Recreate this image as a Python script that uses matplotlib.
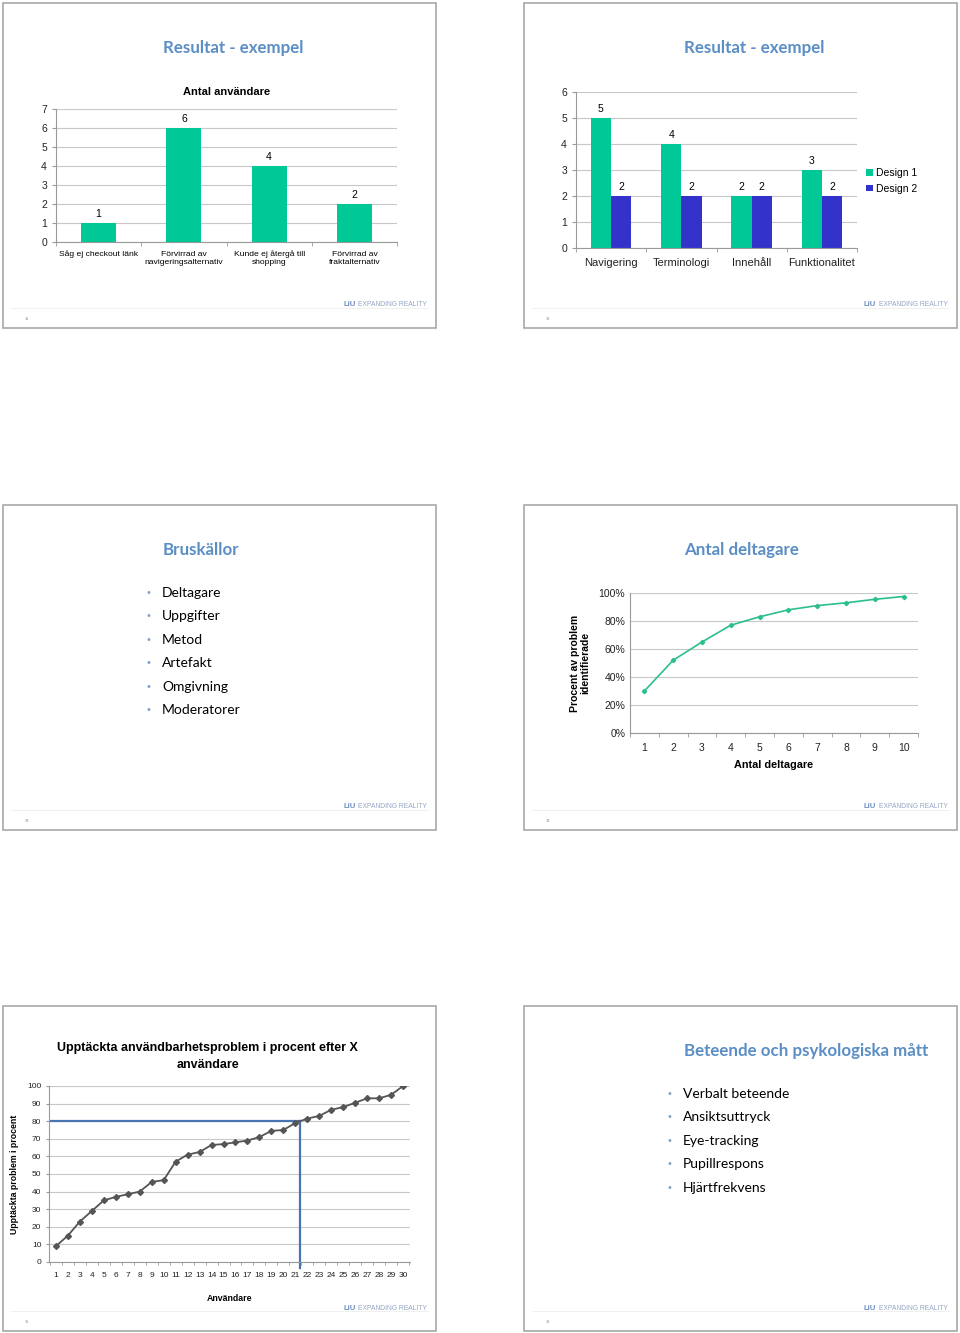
import matplotlib
matplotlib.use("Agg")
import matplotlib.pyplot as plt
from matplotlib.patches import Rectangle
import numpy as np

W, H = 960, 1333

# data
titles = ["Resultat - exempel", "Resultat - exempel", "Bruskällor",
          "Antal deltagare", "", "Beteende och psykologiska mått"]
slide_nums = ["31", "32", "33", "34", "35", "36"]

cat1 = ["Såg ej checkout länk", "Förvirrad av\nnavigeringsalternativ",
        "Kunde ej återgå till\nshopping", "Förvirrad av\nfraktalternativ"]
val1 = [1, 6, 4, 2]

cat2 = ["Navigering", "Terminologi", "Innehåll", "Funktionalitet"]
design1 = [5, 4, 2, 3]
design2 = [2, 2, 2, 2]

bullets3 = ["Deltagare", "Uppgifter", "Metod", "Artefakt", "Omgivning", "Moderatorer"]
bullets6 = ["Verbalt beteende", "Ansiktsuttryck", "Eye-tracking", "Pupillrespons", "Hjärtfrekvens"]

deltagare = list(range(1, 11))
procent = [30, 52, 65, 77, 83, 88, 91, 93, 95.5, 97.5]

anvandare = list(range(1, 31))
upptackta = [9, 15, 23, 29, 35, 37, 38.5, 40, 45.5, 46.5, 57, 61, 62.5, 66.5, 67,
             68, 69, 71, 74.5, 75, 79, 81.5, 83, 86.5, 88, 90.5, 93, 93, 95, 100]

GREEN = "#00c896"
BLUE2 = "#3333cc"
TITLE_C = "#5b8ec5"
TITLE_FONT = dict(family=["Lato", "DejaVu Sans"], fontweight="bold",
                  color=TITLE_C, fontsize=12.2)
CH = ["Liberation Sans", "DejaVu Sans"]

fig = plt.figure(figsize=(W / 100, H / 100), dpi=100)
bg = fig.add_axes([0, 0, 1, 1])
bg.set_xlim(0, W)
bg.set_ylim(H, 0)
bg.axis("off")


def px_axes(x0, y0, x1, y1):
    return fig.add_axes([x0 / W, 1 - y1 / H, (x1 - x0) / W, (y1 - y0) / H])


slides = [(3, 3), (524, 3), (3, 505), (524, 505), (3, 1006), (524, 1006)]
for i, (sx, sy) in enumerate(slides):
    bg.add_patch(Rectangle((sx, sy), 433, 325, fill=False, ec="#a8a8a8", lw=1.2))
    bg.plot([sx + 8, sx + 425], [sy + 305, sy + 305], color="#eeeeee", lw=0.6)
    bg.text(sx + 340, sy + 302, "LiU", fontsize=5.5, fontweight="bold", color="#6f8fbf",
            family=CH, va="center")
    bg.text(sx + 355, sy + 302, "EXPANDING REALITY", fontsize=4.9, color="#93a6c2",
            family=CH, va="center")
    bg.text(sx + 22, sy + 316, slide_nums[i], fontsize=2.5, color="#888888", va="center")
    if titles[i]:
        bg.text(sx + 160, sy + 45, titles[i], ha="left", va="center", **TITLE_FONT)

# bullets
for j, b in enumerate(bullets3):
    y = 593 + j * 23.4
    bg.text(148, y, "•", fontsize=7, color="#7f9fc8", va="center", ha="center")
    bg.text(162, y, b, fontsize=10, family=["Lato", "DejaVu Sans"], va="center")
for j, b in enumerate(bullets6):
    y = 1094 + j * 23.4
    bg.text(669, y, "•", fontsize=7, color="#7f9fc8", va="center", ha="center")
    bg.text(683, y, b, fontsize=10, family=["Lato", "DejaVu Sans"], va="center")


def style(ax):
    ax.grid(axis="y", color="#c8c8c8", lw=0.8)
    ax.set_axisbelow(True)
    for s in ["top", "right"]:
        ax.spines[s].set_visible(False)
    ax.spines["left"].set_color("#999999")
    ax.spines["bottom"].set_color("#999999")
    ax.tick_params(colors="#999999", labelcolor="#222222", length=3, width=0.8)
    ax.patch.set_alpha(0)


# chart 1
ax1 = px_axes(56, 109, 397, 242)
x = np.arange(len(cat1))
ax1.bar(x, val1, width=0.41, color=GREEN)
ax1.set_ylim(0, 7)
ax1.set_xlim(-0.5, 3.5)
ax1.set_yticks(range(8))
style(ax1)
ax1.set_xticks([])
ax1.set_xticks(np.arange(-0.5, 4, 1), minor=True)
ax1.tick_params(axis="x", which="minor", length=3, color="#999999")
for xi, v in zip(x, val1):
    ax1.text(xi, v + 0.2, str(v), ha="center", va="bottom", fontsize=7.5, family=CH)
    ax1.text(xi, -0.45, cat1[xi], ha="center", va="top", fontsize=6.1, family=CH,
             linespacing=1.25)
for lab in ax1.get_yticklabels():
    lab.set_fontsize(7.5)
    lab.set_family(CH)
ax1.set_title("Antal användare", fontsize=8, fontweight="bold", family=CH, pad=10)

# chart 2
ax2 = px_axes(576, 92, 857, 248)
x = np.arange(len(cat2))
bw = 0.29
ax2.bar(x - bw / 2, design1, width=bw, color=GREEN, label="Design 1")
ax2.bar(x + bw / 2, design2, width=bw, color=BLUE2, label="Design 2")
ax2.set_ylim(0, 6)
ax2.set_xlim(-0.5, 3.5)
ax2.set_yticks(range(7))
style(ax2)
ax2.set_xticks(x)
ax2.set_xticklabels(cat2, fontsize=8, family=CH)
ax2.tick_params(axis="x", which="major", length=0, pad=7)
ax2.set_xticks(np.arange(-0.5, 4, 1), minor=True)
ax2.tick_params(axis="x", which="minor", length=3, color="#999999")
for lab in ax2.get_yticklabels():
    lab.set_fontsize(7.5)
    lab.set_family(CH)
for xi in x:
    ax2.text(xi - bw / 2, design1[xi] + 0.15, str(design1[xi]), ha="center", va="bottom",
             fontsize=7.5, family=CH)
    ax2.text(xi + bw / 2, design2[xi] + 0.15, str(design2[xi]), ha="center", va="bottom",
             fontsize=7.5, family=CH)
ax2.legend(loc="center left", bbox_to_anchor=(1.0, 0.43), frameon=False,
           prop={"family": CH, "size": 7.5}, handlelength=0.6, handleheight=0.6,
           handletextpad=0.3, labelspacing=0.55, borderaxespad=0.5)

# chart 3 (line)
ax3 = px_axes(630, 593, 918, 733)
ax3.plot(deltagare, procent, color="#2bbf8c", lw=1.2, marker="D", ms=2.2)
ax3.set_ylim(0, 100)
ax3.set_xlim(0.5, 10.5)
style(ax3)
ax3.set_yticks(range(0, 101, 20))
ax3.set_yticklabels([f"{v}%" for v in range(0, 101, 20)], fontsize=7.5, family=CH)
ax3.set_xticks(deltagare)
ax3.set_xticklabels([str(v) for v in deltagare], fontsize=7.5, family=CH)
ax3.tick_params(axis="x", which="major", length=0, pad=7)
ax3.set_xticks(np.arange(0.5, 11, 1), minor=True)
ax3.tick_params(axis="x", which="minor", length=3, color="#999999")
ax3.tick_params(axis="y", length=0)
ax3.set_xlabel("Antal deltagare", fontsize=7.8, fontweight="bold", family=CH, labelpad=5)
ax3.set_ylabel("Procent av problem\nidentifierade", fontsize=7.5, fontweight="bold",
               family=CH, labelpad=6, linespacing=1.0)

# chart 4 (line)
ax4 = px_axes(49, 1086, 410, 1262)
ax4.plot(anvandare, upptackta, color="#555555", lw=1.3, marker="D", ms=3)
ax4.set_ylim(0, 100)
ax4.set_xlim(0.42, 30.58)
style(ax4)
ax4.set_yticks(range(0, 101, 10))
ax4.set_yticklabels([str(v) for v in range(0, 101, 10)], fontsize=6, family=CH)
ax4.set_xticks(anvandare)
ax4.set_xticklabels([str(v) for v in anvandare], fontsize=6, family=CH)
ax4.tick_params(axis="x", which="major", length=0, pad=7)
ax4.set_xticks(np.arange(0.5, 31, 1), minor=True)
ax4.tick_params(axis="x", which="minor", length=2, color="#999999")
ax4.tick_params(axis="y", length=2)
ax4.plot([0.42, 21.4], [80, 80], color="#4a74b0", lw=1.6, zorder=1)
ax4.plot([21.4, 21.4], [80, -3.5], color="#4a74b0", lw=1.6, zorder=1, clip_on=False)
ax4.set_xlabel("Användare", fontsize=6.3, fontweight="bold", family=CH, labelpad=11)
ax4.set_ylabel("Upptäckta problem i procent", fontsize=6.3, fontweight="bold",
               family=CH, labelpad=6)
ax4.set_title("Upptäckta användbarhetsproblem i procent efter X\nanvändare", fontsize=9,
              fontweight="bold", family=CH, pad=13, x=0.44, linespacing=1.55)

fig.savefig("out.png", dpi=100)
